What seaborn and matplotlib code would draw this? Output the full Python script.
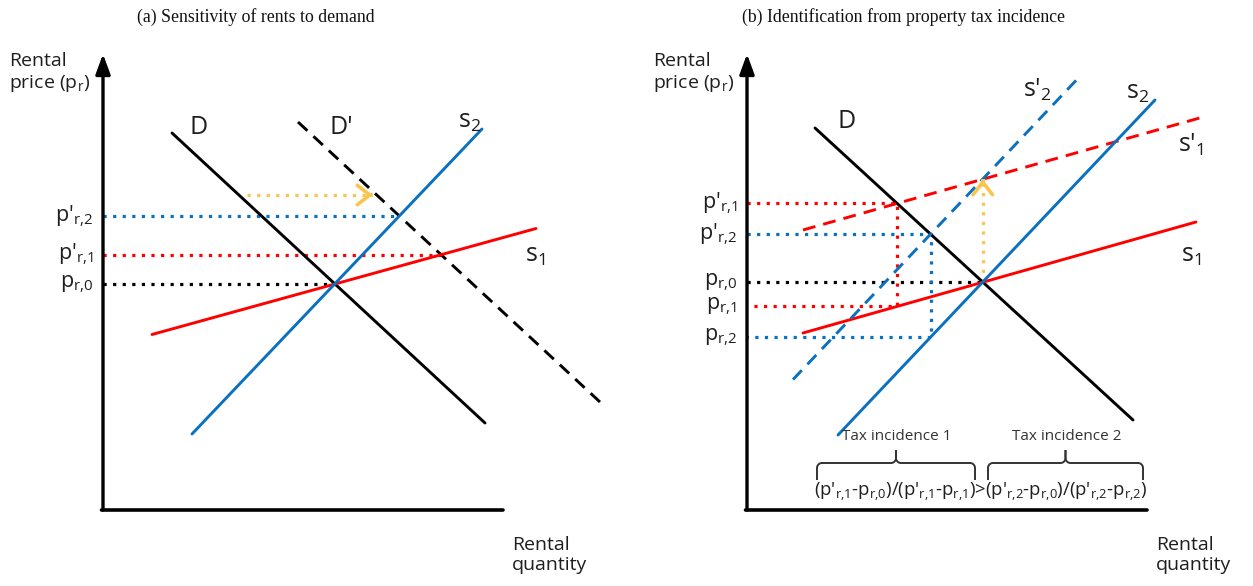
import numpy as np
import matplotlib
matplotlib.use("Agg")
import matplotlib.pyplot as plt
import seaborn as sns

# ---------------- data (quantity, price), origin at the axes corner ----------------
# panel (a): demand shift with two supply curves
a_D_q, a_D_p = [69, 382], [377, 87]
a_Dn_q, a_Dn_p = [195, 497], [388, 108]
a_s2_q, a_s2_p = [89, 379], [76, 381]
a_s1_q, a_s1_p = [49, 433], [175.5, 281.5]

# panel (b): property tax shifts both supply curves up by the same amount
b_D_q, b_D_p = [68, 386], [382, 90]
b_s2_q, b_s2_p = [91, 408], [75, 410]
b_s1_q, b_s1_p = [56, 449], [177, 288]
tax = 103
b_s2t_q = [46, 331]
b_s1t_q = [56, 460]


def sub(base, s):
    return base + "$_{\\mathregular{" + s.replace(",", "{,}") + "}}$"


tick_a = [sub("p'", "r,2"), sub("p'", "r,1"), sub("p", "r,0")]
tick_b = [sub("p'", "r,1"), sub("p'", "r,2"), sub("p", "r,0"), sub("p", "r,1"), sub("p", "r,2")]
titles = ["(a) Sensitivity of rents to demand", "(b) Identification from property tax incidence"]
y_label = "Rental\nprice (" + sub("p", "r") + ")"
x_label = "Rental\nquantity"
formula = ("(" + sub("p'", "r,1") + "-" + sub("p", "r,0") + ")/(" + sub("p'", "r,1") + "-" + sub("p", "r,1") + ")>"
           "(" + sub("p'", "r,2") + "-" + sub("p", "r,0") + ")/(" + sub("p'", "r,2") + "-" + sub("p", "r,2") + ")")

BLUE, RED, BLACK, YELLOW = "#0a70c0", "#ff0000", "#000000", "#f9c54e"
TXT = "#1e1e1e"

sns.set_theme(style="white")
plt.rcParams["font.family"] = ["Open Sans", "DejaVu Sans"]
plt.rcParams["mathtext.fontset"] = "custom"
plt.rcParams["mathtext.rm"] = "Open Sans"
plt.rcParams["mathtext.it"] = "Open Sans:italic"
plt.rcParams["mathtext.bf"] = "Open Sans:bold"


def line_fn(q, p):
    m = (p[1] - p[0]) / (q[1] - q[0])
    return m, p[0] - m * q[0]


def cross(l1, l2):
    (m1, c1), (m2, c2) = l1, l2
    q = (c2 - c1) / (m1 - m2)
    return q, m1 * q + c1


def draw(ax, q, p, color, lw=2.1, ls="-"):
    sns.lineplot(x=q, y=p, ax=ax, color=color, lw=lw, linestyle=ls,
                 sort=False, estimator=None, legend=False)


DOT = (0, (1, 2))
DASH = (0, (4.4, 2.8))


def dotted(ax, q, p, color):
    ax.plot(q, p, color=color, lw=2.3, linestyle=DOT, dash_capstyle="butt")


def axes_frame(ax, y_ticks, labels):
    ax.annotate("", xy=(0, 456), xytext=(0, 0),
                arrowprops=dict(arrowstyle="-|>,head_length=0.6,head_width=0.22",
                                lw=2.4, color="black", shrinkA=0, shrinkB=0,
                                mutation_scale=20))
    ax.annotate("", xy=(400, 0), xytext=(-1.5, 0),
                arrowprops=dict(arrowstyle="-", lw=2.6, color="black",
                                shrinkA=0, shrinkB=0))
    for yv, lab in zip(y_ticks, labels):
        ax.text(-10, yv, lab, ha="right", va="center", fontsize=15.5, color=TXT)
    ax.text(-94, 437, y_label, ha="left", va="center", fontsize=14, color=TXT,
            linespacing=1.2)
    ax.text(409, -45, x_label, ha="left", va="center", fontsize=14, color=TXT,
            linespacing=1.2)


def chevron(ax, tip, direction, color):
    d = np.array(direction, float)
    tail = np.array(tip) - d * 2
    ax.annotate("", xy=tip, xytext=tail,
                arrowprops=dict(arrowstyle="->,head_length=0.45,head_width=0.35",
                                lw=2.6, color=color, shrinkA=0, shrinkB=0,
                                mutation_scale=20))


def brace(ax, x1, x2, y_base, y_mid, y_tip, r=5, **kw):
    xc = (x1 + x2) / 2
    t = np.linspace(0, np.pi / 2, 20)
    xs, ys = [x1], [y_base]
    # left end corner
    xs += list(x1 + r - r * np.cos(t)); ys += list(y_mid - r + r * np.sin(t))
    # into the tip
    xs += list(xc - r + r * np.sin(t)); ys += list(y_mid + r - r * np.cos(t))
    xs += [xc]; ys += [y_tip]
    xs = np.array(xs); ys = np.array(ys)
    ax.plot(xs, ys, **kw)
    ax.plot(2 * xc - xs, ys, **kw)


fig = plt.figure(figsize=(12.53, 5.86), dpi=100)
axA = fig.add_axes([0, 0, 0.5, 1])
axB = fig.add_axes([0.5, 0, 0.5, 1])
W, H = 1253, 586
axA.set_xlim(-103, W / 2 - 103)
axB.set_xlim(W / 2 - 747, W - 747)
for ax in (axA, axB):
    ax.set_ylim(510 - H, 510)
    ax.set_axis_off()
    ax.patch.set_alpha(0)

# ---------------- panel (a) ----------------
LD, LDn = line_fn(a_D_q, a_D_p), line_fn(a_Dn_q, a_Dn_p)
Ls2, Ls1 = line_fn(a_s2_q, a_s2_p), line_fn(a_s1_q, a_s1_p)
q0, p0 = cross(LD, Ls2)
q1, p1 = cross(LDn, Ls1)
q2, p2 = cross(LDn, Ls2)

dotted(axA, [0, q0], [p0, p0], BLACK)
dotted(axA, [0, q1], [p1, p1], RED)
dotted(axA, [0, q2], [p2, p2], BLUE)
ys = 315  # height of the demand-shift arrow
qa = (ys - LD[1]) / LD[0] + 8
qb = (ys - LDn[1]) / LDn[0] - 4
dotted(axA, [qa, qb - 3], [ys, ys], YELLOW)
chevron(axA, (qb, ys), (1, 0), YELLOW)

draw(axA, a_D_q, a_D_p, BLACK)
draw(axA, a_Dn_q, a_Dn_p, BLACK, ls=DASH)
draw(axA, a_s1_q, a_s1_p, RED)
draw(axA, a_s2_q, a_s2_p, BLUE)
axes_frame(axA, [p2, p1, p0], tick_a)

lab_kw = dict(fontsize=18, color=TXT, ha="center", va="center")
axA.text(96, 383, "D", **lab_kw)
axA.text(238, 383, "D'", **lab_kw)
axA.text(367, 388, sub("s", "2"), **lab_kw)
axA.text(432, 255, sub("s", "1"), **lab_kw)

# ---------------- panel (b) ----------------
LD = line_fn(b_D_q, b_D_p)
Ls2, Ls1 = line_fn(b_s2_q, b_s2_p), line_fn(b_s1_q, b_s1_p)
Ls2t = (Ls2[0], Ls2[1] + tax)
Ls1t = (Ls1[0], Ls1[1] + tax)
b_s2t_p = [Ls2t[0] * q + Ls2t[1] for q in b_s2t_q]
b_s1t_p = [Ls1t[0] * q + Ls1t[1] for q in b_s1t_q]

q0, p0 = cross(LD, Ls2)
qt1, pt1 = cross(LD, Ls1t)
qt2, pt2 = cross(LD, Ls2t)
pr1 = Ls1[0] * qt1 + Ls1[1]
pr2 = Ls2[0] * qt2 + Ls2[1]

dotted(axB, [0, q0], [p0, p0], BLACK)
dotted(axB, [0, qt1, qt1, 0], [pt1, pt1, pr1, pr1], RED)
dotted(axB, [0, qt2, qt2, 0], [pt2, pt2, pr2, pr2], BLUE)
ptop = Ls1t[0] * q0 + Ls1t[1]
dotted(axB, [q0, q0], [p0, ptop - 4], YELLOW)
chevron(axB, (q0, ptop), (0, 1), YELLOW)

draw(axB, b_D_q, b_D_p, BLACK)
draw(axB, b_s1_q, b_s1_p, RED)
draw(axB, b_s1t_q, b_s1t_p, RED, ls=DASH)
draw(axB, b_s2_q, b_s2_p, BLUE)
draw(axB, b_s2t_q, b_s2t_p, BLUE, ls=DASH)
axes_frame(axB, [pt1, pt2, p0, pr1, pr2], tick_b)

axB.text(100, 388, "D", **lab_kw)
axB.text(290, 420, sub("s'", "2"), **lab_kw)
axB.text(391, 418, sub("s", "2"), **lab_kw)
axB.text(444, 365, sub("s'", "1"), **lab_kw)
axB.text(444, 255, sub("s", "1"), **lab_kw)

# bottom annotation: incidence comparison
brace_kw = dict(color="#333333", lw=1.4, solid_capstyle="butt")
brace(axB, 70, 228, 30, 47, 60, **brace_kw)
brace(axB, 241, 396, 30, 47, 60, **brace_kw)
axB.text(150, 73, "Tax incidence 1", fontsize=11, color="#333333", ha="center", va="center")
axB.text(320, 73, "Tax incidence 2", fontsize=11, color="#333333", ha="center", va="center")
axB.text(234, 18, formula, fontsize=13.3, color=TXT, ha="center", va="center")

for x, t in zip([256, 903], titles):
    fig.text(x / W, 1 - 17 / H, t, ha="center", va="center", fontsize=12.8,
             family=["Liberation Serif", "DejaVu Serif"], color="#111111")

fig.savefig("out.png", dpi=100, facecolor="white")
